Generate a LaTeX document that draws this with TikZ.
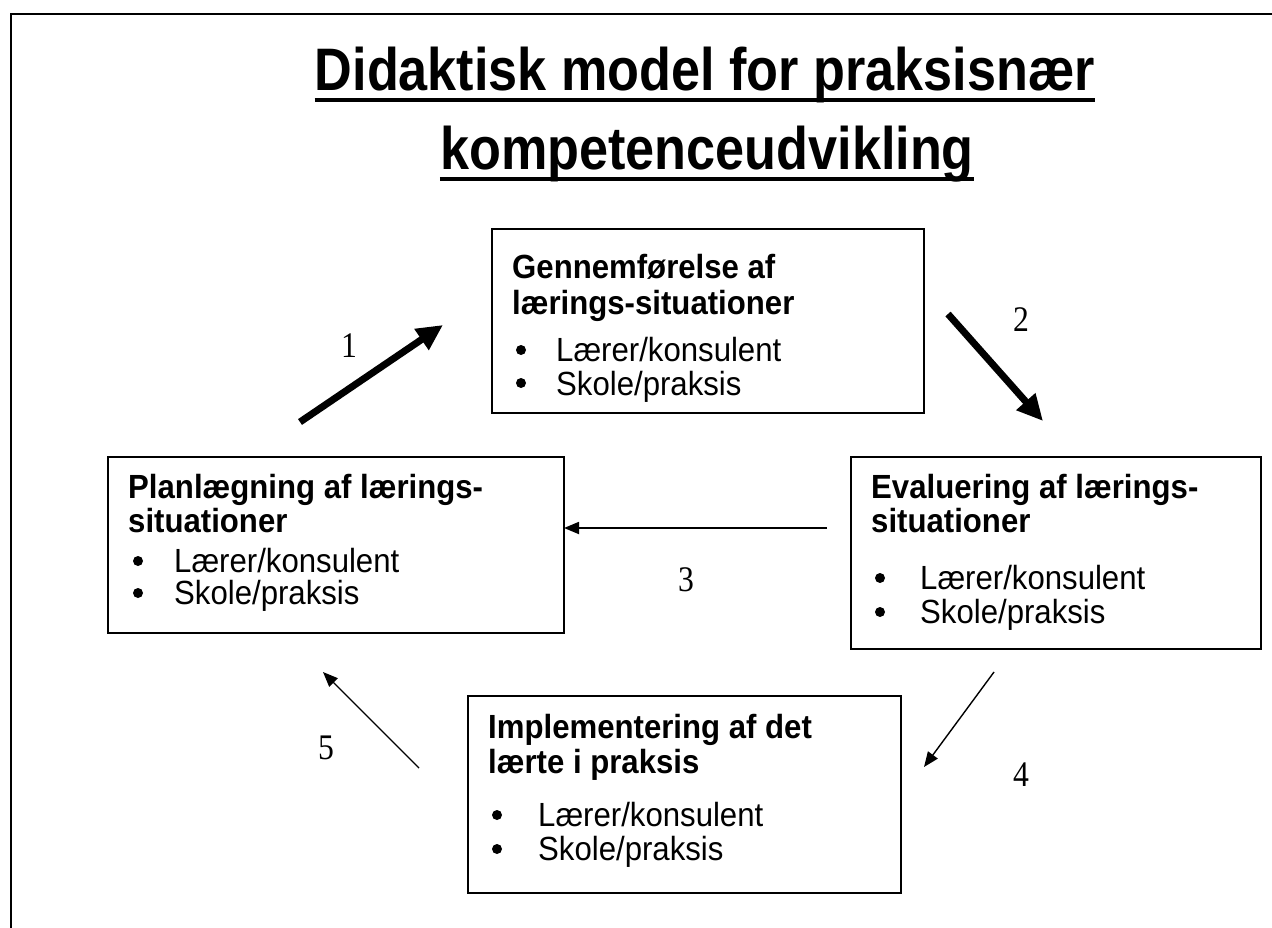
\documentclass[tikz,border=0pt]{standalone}
\usepackage{fontspec}
\setmainfont{Liberation Sans}
\newfontfamily\bodyfont{Liberation Sans}[FakeStretch=0.93]
\newfontfamily\titlefont{Liberation Sans}[FakeStretch=0.87]
\newfontfamily\numfont{Liberation Serif}[FakeStretch=0.88]
\usetikzlibrary{arrows.meta}
\begin{document}
\begin{tikzpicture}[x=1pt,y=-1pt,
  box/.style={draw, line width=2pt, anchor=north west, inner sep=0pt},
  headtxt/.style={anchor=base west, inner sep=0pt, font=\bodyfont\fontsize{33.5}{36}\selectfont\bfseries},
  itemtxt/.style={anchor=base west, inner sep=0pt, font=\bodyfont\fontsize{33.5}{36}\selectfont},
  bul/.style={circle, fill=black, inner sep=0pt, minimum size=10pt},
  num/.style={inner sep=0pt, font=\numfont\fontsize{36}{40}\selectfont},
  bigarrow/.style={line width=7pt, -{Triangle[length=26pt,width=24pt]}},
  thinarrow/.style={line width=1.8pt, -{Triangle[length=15pt,width=12pt]}},
  titletxt/.style={anchor=base, inner sep=0pt, font=\titlefont\fontsize{60}{66}\selectfont\bfseries},
  uline/.style={line width=4pt}
]
\useasboundingbox (0,0) rectangle (1272,928);
% frame
\coordinate (fb) at (11,928);
\coordinate (ftl) at (11,14);
\coordinate (fr) at (1272,14);
\draw[line width=2.5pt] (fb) -- (ftl) -- (fr);

% title
\node[titletxt] (t1) at (705,91) {Didaktisk model for praksisnær};
\node[titletxt] (t2) at (707,170) {kompetenceudvikling};
\draw[uline] ([yshift=-9pt]t1.base west) -- ([yshift=-9pt]t1.base east);
\draw[uline] ([yshift=-9pt]t2.base west) -- ([yshift=-9pt]t2.base east);

% boxes
\node[box, minimum width=432pt, minimum height=184pt] (gen) at (491,228) {};
\node[box, minimum width=456pt, minimum height=176pt] (plan) at (107,456) {};
\node[box, minimum width=410pt, minimum height=192pt] (eval) at (850,456) {};
\node[box, minimum width=433pt, minimum height=197pt] (impl) at (467,695) {};

% Gennemfoerelse
\node[headtxt] (g1) at (512,279) {Gennemførelse af};
\node[headtxt] (g2) at (512,314) {lærings-situationer};
\node[bul] (gb1) at (521,350) {};
\node[itemtxt] (g3) at (556,361) {Lærer/konsulent};
\node[bul] (gb2) at (521,383) {};
\begin{scope}
\clip (491,228) rectangle (923,403);
\node[itemtxt] (g4) at (556,395) {Skole/praksis};
\end{scope}

% Planlaegning
\node[headtxt] (p1) at (128,498) {Planlægning af lærings-};
\node[headtxt] (p2) at (128,532) {situationer};
\node[bul] (pb1) at (138,561) {};
\node[itemtxt] (p3) at (174,572) {Lærer/konsulent};
\node[bul] (pb2) at (138,593) {};
\node[itemtxt] (p4) at (174,604) {Skole/praksis};

% Evaluering
\node[headtxt] (e1) at (871,498) {Evaluering af lærings-};
\node[headtxt] (e2) at (871,532) {situationer};
\node[bul] (eb1) at (880,578) {};
\node[itemtxt] (e3) at (920,589) {Lærer/konsulent};
\node[bul] (eb2) at (880,612) {};
\node[itemtxt] (e4) at (920,623) {Skole/praksis};

% Implementering
\node[headtxt] (i1) at (488,738) {Implementering af det};
\node[headtxt] (i2) at (488,773) {lærte i praksis};
\node[bul] (ib1) at (497,815) {};
\node[itemtxt] (i3) at (538,826) {Lærer/konsulent};
\node[bul] (ib2) at (497,849) {};
\node[itemtxt] (i4) at (538,860) {Skole/praksis};

% arrows
\coordinate (a1s) at (300,422);
\coordinate (a1e) at (443,325);
\coordinate (a2s) at (948,314);
\coordinate (a2e) at (1043,421);
\coordinate (a3s) at (827,528);
\coordinate (a3e) at (564,528);
\coordinate (a4s) at (994,672);
\coordinate (a4e) at (924,767);
\coordinate (a5s) at (419,768);
\coordinate (a5e) at (323,672);
\draw[bigarrow] (a1s) -- (a1e);
\draw[bigarrow] (a2s) -- (a2e);
\draw[thinarrow] (a3s) -- (a3e);
\draw[thinarrow, line width=1.4pt] (a4s) -- (a4e);
\draw[thinarrow, line width=1.4pt] (a5s) -- (a5e);

% numbers
\node[num] (n1) at (349,346) {1};
\node[num] (n2) at (1021,320) {2};
\node[num] (n3) at (686,580) {3};
\node[num] (n4) at (1021,775) {4};
\node[num] (n5) at (326,748) {5};
\end{tikzpicture}
\end{document}
